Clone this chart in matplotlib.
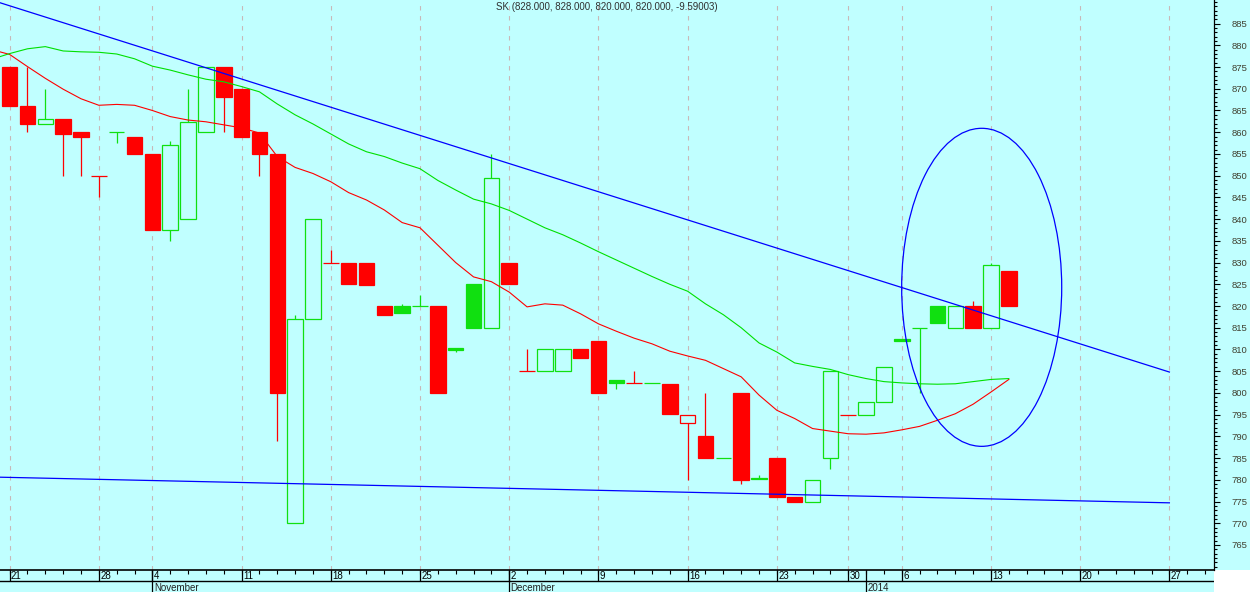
import numpy as np
import matplotlib
matplotlib.use('Agg')
import matplotlib.pyplot as plt
from matplotlib.patches import Ellipse, Rectangle
from matplotlib.ticker import MultipleLocator

plt.rcParams['font.family'] = ['Liberation Sans', 'DejaVu Sans']

# daily candles, one per trading-day slot (slot 0 = 21 Oct 2013)
opens = [875, 866, 862, 863, 860, 850, 860, 859, 855, 837.5,
         840, 860, 875, 870, 860, 855, 770, 817, 830, 830,
         830, 820, 820, 820, 820, 810.4, 825, 815, 830, 805,
         805, 805, 810, 812, 803, 802.2, 802.2, 802, 793, 790,
         785, 800, 780.5, 785, 776, 775, 785, 795, 795, 798,
         812.3, 815, 820, 815, 820, 815, 828]
highs = [875, 875, 870, 863, 860, 850, 860, 859, 855, 858,
         870, 875, 875, 870, 860, 855, 818, 840, 833, 830,
         830, 820, 820.5, 822.5, 820, 810.4, 825, 855, 830, 810,
         810, 810, 810, 812, 803, 805, 802.2, 802, 795, 800,
         785, 800, 781, 785, 776, 780, 805, 795, 798, 806,
         812.3, 815, 820, 820, 821.2, 830, 828]
lows = [866, 860, 862, 850, 850, 845, 857.5, 855, 837.5, 835,
        840, 860, 860, 859, 850, 789, 770, 817, 830, 825,
        824.8, 818, 818.3, 820, 800, 809.3, 815, 815, 825, 805,
        805, 805, 808, 800, 801, 802.2, 802.2, 795.2, 780, 785,
        785, 779, 780.2, 776, 775, 775, 782.5, 795, 795, 798,
        812, 800, 816, 815, 815, 815, 820]
closes = [866, 862, 863, 859.5, 859, 850, 860, 855, 837.5, 857,
          862.3, 875, 868, 859, 855, 800, 817, 840, 830, 825,
          824.8, 818, 818.3, 820, 800, 809.9, 815, 849.5, 825, 805,
          810, 810, 808, 800, 802.3, 802.2, 802.2, 795.2, 795, 785,
          785, 780, 780.2, 776, 775, 780, 805, 795, 798, 806,
          812, 815, 816, 820, 815, 829.5, 820]

# moving averages, starting at slot -1
ma_fast = [879.0, 877.9, 875.1, 872.4, 869.9, 867.7, 866.2, 866.4, 866.2, 865.0,
           863.6, 862.8, 862.4, 861.7, 861.0, 859.8, 854.4, 851.9, 850.5, 848.6,
           846.1, 844.4, 842.1, 839.2, 838.0, 834.0, 830.0, 826.7, 825.6, 823.2,
           819.8, 820.5, 820.2, 818.2, 815.9, 814.2, 812.6, 811.3, 809.6, 808.5,
           807.5, 805.6, 803.7, 799.5, 796.0, 794.1, 791.8, 791.2, 790.6, 790.5,
           790.8, 791.5, 792.3, 793.7, 795.2, 797.4, 800.2, 803.1]
ma_slow = [876.8, 878.1, 879.2, 879.7, 878.7, 878.5, 878.4, 878.0, 876.9, 875.2,
           874.3, 873.2, 872.2, 871.6, 870.5, 869.3, 866.5, 864.0, 861.9, 859.6,
           857.3, 855.5, 854.4, 852.9, 851.6, 848.9, 846.7, 844.6, 843.5, 842.0,
           840.0, 838.0, 836.4, 834.5, 832.5, 830.6, 828.7, 826.8, 825.0, 823.4,
           820.5, 818.0, 815.0, 811.5, 809.4, 806.9, 806.1, 805.4, 804.2, 803.3,
           802.6, 802.3, 802.1, 802.0, 802.1, 802.6, 803.1, 803.3]

# hand-drawn trend lines (slot, price) and the circle marking the breakout
trend_upper = ([-0.54, 65], [889.8, 804.8])
trend_lower = ([-0.54, 65], [780.6, 774.7])
circle_center = (54.48, 824.3)
circle_size = (8.97, 73.2)

day_labels = ['21', '28', '4', '11', '18', '25', '2', '9', '16', '23', '30', '6', '13', '20', '27']
day_pos = [0, 5, 8, 13, 18, 23, 28, 33, 38, 43, 47, 50, 55, 60, 65]
month_labels = ['November', 'December', '2014']
month_pos = [8, 28, 48]

title = 'SK (828.000, 828.000, 820.000, 820.000, -9.59003)'

bg = '#c0ffff'
red = '#ff0000'
green = '#10e010'
blue = '#0000ff'

W, H = 1250, 592
fig = plt.figure(figsize=(W / 100, H / 100), dpi=100, facecolor='white')
axr = 1214 / W
fig.add_artist(Rectangle((axr, 22 / H), 1 - axr, 570 / H, transform=fig.transFigure,
                         facecolor=bg, edgecolor='none', zorder=-1))

ax = fig.add_axes([0, 22 / H, axr, 570 / H], facecolor=bg)
xlim = (-0.54, 67.5)
ax.set_xlim(xlim)
ax.set_ylim(759.24, 890.43)

for p in day_pos:
    ax.axvline(p, color='#c8b8b8', lw=0.8, ls=(0, (4, 5)), zorder=1)

o = np.array(opens)
h = np.array(highs)
l = np.array(lows)
c = np.array(closes)
idx = np.arange(len(o))
prev = np.r_[o[0], c[:-1]]
cols = np.where(c >= prev, green, red)
filled = c < o
top = np.maximum(o, c)
bot = np.minimum(o, c)
faces = [col if f else bg for col, f in zip(cols, filled)]
ax.bar(idx, top - bot, bottom=bot, width=0.87, color=faces, edgecolor=cols,
       linewidth=0.9, zorder=2)
m = h > top
ax.vlines(idx[m], top[m], h[m], colors=cols[m], lw=0.9, zorder=2)
m = l < bot
ax.vlines(idx[m], l[m], bot[m], colors=cols[m], lw=0.9, zorder=2)

ma_idx = np.arange(-1, len(ma_fast) - 1)
ax.plot(ma_idx, ma_fast, color=red, lw=0.8, zorder=3)
ax.plot(ma_idx, ma_slow, color='#00e000', lw=0.8, zorder=3)
ax.plot(*trend_upper, color=blue, lw=0.9, zorder=3)
ax.plot(*trend_lower, color=blue, lw=0.9, zorder=3)
ax.add_patch(Ellipse(circle_center, circle_size[0], circle_size[1], fill=False,
                     edgecolor=blue, lw=0.9, zorder=3))

for s in ['left', 'top', 'bottom']:
    ax.spines[s].set_visible(False)
ax.spines['right'].set_color('black')
ax.spines['right'].set_linewidth(0.9)
ax.set_xticks([])
ax.yaxis.tick_right()
ax.set_yticks(np.arange(765, 890, 5))
ax.yaxis.set_minor_locator(MultipleLocator(1))
ax.tick_params(axis='y', which='major', length=4.3, width=0.8, pad=8.5,
               labelsize=6.8, labelcolor='#404030')
ax.tick_params(axis='y', which='minor', length=2.2, width=0.8)

# date strip below the chart
axd = fig.add_axes([0, 0, axr, 22 / H], facecolor=bg)
axd.set_xlim(xlim)
axd.set_ylim(0, 1)
axd.set_xticks([])
axd.set_yticks([])
for s in axd.spines.values():
    s.set_visible(False)
axd.axhline(1, color='black', lw=1.2, clip_on=False)
axd.axhline(0.5, color='black', lw=1)
axd.vlines(np.arange(0, 68), 1 - 4 / 22, 1, colors='black', lw=0.8)
axd.vlines(day_pos, 0.5, 1, colors='black', lw=0.9)
axd.vlines(month_pos, 0, 1, colors='black', lw=0.9)
for lab, p in zip(day_labels, day_pos):
    axd.text(p + 0.08, 0.74, lab, fontsize=7, ha='left', va='center', color='black')
for lab, p in zip(month_labels, month_pos):
    axd.text(p + 0.08, 0.2, lab, fontsize=7, ha='left', va='center', color='#202020')

fig.text(606.7 / W, 1 - 7 / H, title, ha='center', va='center', fontsize=7, color='#303030')

fig.savefig('out.png', dpi=100, facecolor='white')
